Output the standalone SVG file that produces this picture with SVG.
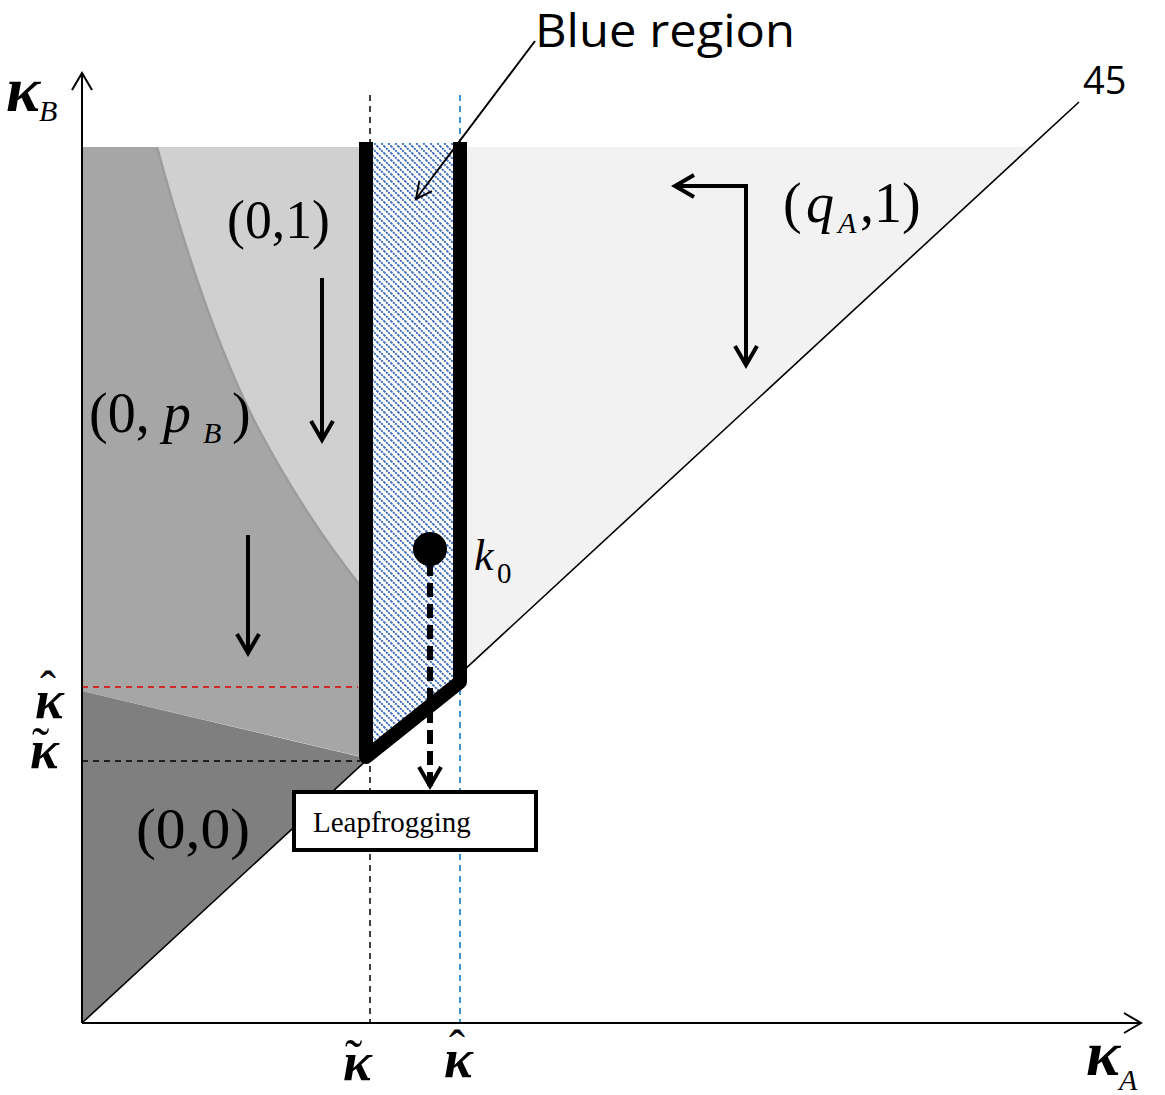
<svg xmlns="http://www.w3.org/2000/svg" width="1165" height="1095" viewBox="0 0 1165 1095">
<style>
.serif{font-family:"Liberation Serif","Times New Roman",serif;fill:#000}
.it{font-style:italic}
.kap{font-family:"Liberation Serif","Times New Roman",serif;font-style:italic;font-weight:bold;fill:#000}
.acc{font-style:normal;font-weight:normal}
.sans{font-family:"Open Sans","Liberation Sans",sans-serif;fill:#000}
.arrow{stroke:#000;stroke-width:4;fill:none}
.dash{stroke-width:1.5;fill:none;stroke-dasharray:6 5}
</style>
<defs>
<pattern id="hatch" patternUnits="userSpaceOnUse" width="7" height="7">
<rect width="7" height="7" fill="#fff"/>
<path d="M-1,-1 L8,8 M-1,6 L1,8 M6,-1 L8,1" stroke="#2f62b8" stroke-width="1.8" stroke-dasharray="2 1"/>
</pattern>
<marker id="axhead" markerUnits="userSpaceOnUse" markerWidth="26" markerHeight="26" refX="20" refY="12" orient="auto" overflow="visible">
<path d="M3,2 L20,12 L3,22" fill="none" stroke="#000" stroke-width="2"/>
</marker>
<marker id="head" markerUnits="userSpaceOnUse" markerWidth="26" markerHeight="26" refX="20" refY="12" orient="auto" overflow="visible">
<path d="M1,1 L20,12 L1,23" fill="none" stroke="#000" stroke-width="4"/>
</marker>
<marker id="thin" markerUnits="userSpaceOnUse" markerWidth="22" markerHeight="22" refX="18" refY="10" orient="auto" overflow="visible">
<path d="M2,2 L18,10 L2,18" fill="none" stroke="#000" stroke-width="2"/>
</marker>
</defs>
<rect width="1165" height="1095" fill="#fff"/>
<g id="regions">
<polygon id="region-qA1" points="453,147 1029,147 453,680" fill="#f2f2f2"/>
<polygon id="region-0pB" points="82,147 362,147 362,757 82,691" fill="#a6a6a6"/>
<path id="region-01" d="M157,147 L362,147 L362,588 C322,538 290,488 258,428 C220,355 185,250 157,147 Z" fill="#d0d0d0"/>
<path d="M362,588 C322,538 290,488 258,428 C220,355 185,250 157,147" fill="none" stroke="#9c9c9c" stroke-width="2.5"/>
<polygon id="region-00" points="82,691 365,758 365,761 82,1023" fill="#7f7f7f"/>
</g>
<g id="guides">
<line x1="82" y1="687" x2="358" y2="687" class="dash" stroke="#e00000"/>
<line x1="82" y1="761" x2="360" y2="761" class="dash" stroke="#000"/>
<line x1="370" y1="95" x2="370" y2="1023" class="dash" stroke="#000"/>
<line x1="460" y1="95" x2="460" y2="1023" class="dash" stroke="#0070c0"/>
</g>
<g id="blue-region">
<polygon points="366,143 460,143 460,682 366,757" fill="url(#hatch)"/>
<path d="M366,142 L366,757 L460,682 L460,142" fill="none" stroke="#000" stroke-width="14" stroke-linejoin="round"/>
</g>
<g id="axes">
<line x1="82" y1="1023" x2="82" y2="73" stroke="#000" stroke-width="2" marker-end="url(#axhead)"/>
<line x1="82" y1="1023" x2="1141" y2="1023" stroke="#000" stroke-width="2" marker-end="url(#axhead)"/>
<line x1="82" y1="1023" x2="1079" y2="102" stroke="#000" stroke-width="1.6"/>
</g>
<g id="connectors">
<line x1="322" y1="278" x2="322" y2="440" class="arrow" marker-end="url(#head)"/>
<line x1="248" y1="535" x2="248" y2="653" class="arrow" marker-end="url(#head)"/>
<polyline points="746,365 746,186 675,186" class="arrow" marker-end="url(#head)"/>
<line x1="746" y1="188" x2="746" y2="365" class="arrow" marker-end="url(#head)"/>
<line x1="535" y1="41" x2="416" y2="199" stroke="#000" stroke-width="2" marker-end="url(#thin)"/>
<line x1="430" y1="562" x2="430" y2="786" stroke="#000" stroke-width="6" stroke-dasharray="14 7" marker-end="url(#head)"/>
</g>
<g id="k0">
<circle cx="430" cy="549" r="17" fill="#000"/>
<text x="474" y="570" class="serif it" font-size="44">k<tspan x="497" y="583" font-style="normal" font-size="29">0</tspan></text>
</g>
<g id="leapfrogging">
<rect x="294" y="792" width="242" height="58" fill="#fff" stroke="#000" stroke-width="4"/>
<text x="313" y="832" class="serif" font-size="29">Leapfrogging</text>
</g>
<g id="labels">
<text x="535" y="47" class="sans" font-size="45" textLength="260" lengthAdjust="spacingAndGlyphs">Blue region</text>
<text x="1083" y="94" class="sans" font-size="38">45</text>
<text x="227" y="238" class="serif" font-size="54" textLength="103" lengthAdjust="spacingAndGlyphs">(0,1)</text>
<text x="136" y="848" class="serif" font-size="56" textLength="114" lengthAdjust="spacingAndGlyphs">(0,0)</text>
<text x="89" y="432" class="serif" font-size="56">(0,<tspan x="163" font-style="italic">p</tspan><tspan x="203" y="443" font-style="italic" font-size="30">B</tspan><tspan x="232" y="432">)</tspan></text>
<text x="783" y="222" class="serif" font-size="56">(<tspan x="806" font-style="italic">q</tspan><tspan x="838" y="233" font-style="italic" font-size="30">A</tspan><tspan x="860" y="222">,1)</tspan></text>
<text x="6" y="111" class="kap" font-size="64">κ<tspan x="39" y="121" font-weight="normal" font-size="30">B</tspan></text>
<text x="1086" y="1075" class="kap" font-size="64">κ<tspan x="1119" y="1090" font-weight="normal" font-size="30">A</tspan></text>
<text x="35" y="718" class="kap" font-size="54">κ<tspan class="acc" x="40" y="705" font-size="48">ˆ</tspan></text>
<text x="30" y="768" class="kap" font-size="54">κ<tspan class="acc" x="32" y="764" font-size="52">˜</tspan></text>
<text x="343" y="1080" class="kap" font-size="54">κ<tspan class="acc" x="345" y="1076" font-size="52">˜</tspan></text>
<text x="444" y="1077" class="kap" font-size="54">κ<tspan class="acc" x="449" y="1064" font-size="48">ˆ</tspan></text>
</g>
</svg>
